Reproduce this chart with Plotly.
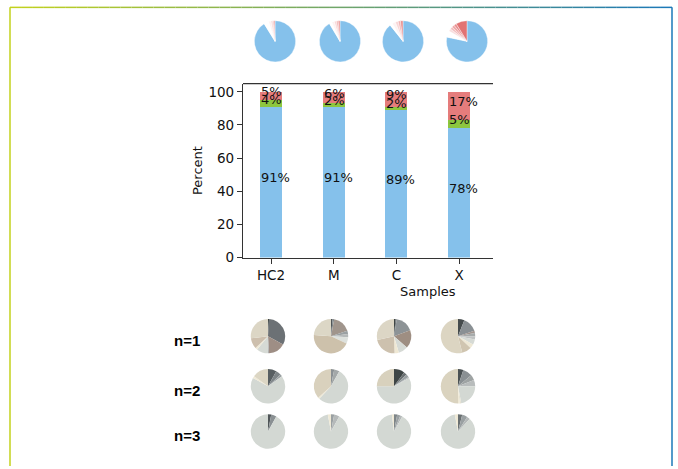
import plotly.graph_objects as go

W, H = 678, 469

# ---------------- data ----------------
samples = ["HC2", "M", "C", "X"]
blue_pct = [91.2, 91.4, 89.3, 78.3]
green_pct = [3.9, 2.2, 2.1, 4.9]
red_pct = [4.9, 6.4, 8.6, 16.8]
yticks = [0, 20, 40, 60, 80, 100]

# red part of each top pie, split into sub-slices (light -> dark)
red_sub = [
    [1.8, 1.4, 0.9, 0.8],
    [2.0, 1.6, 1.4, 1.4],
    [2.6, 2.2, 1.8, 2.0],
    [2.0, 2.0, 2.0, 2.0, 8.8],
]

row_labels = ["n=1", "n=2", "n=3"]

# lower pies: values (clockwise from 12 o'clock) and slice colours
n_vals = [
    [
        [1, 32, 16, 1, 11, 2, 10, 27],
        [1.5, 1.5, 17, 3, 3, 6, 44, 24],
        [1.5, 1, 17, 17, 9, 4, 22, 28.5],
        [6, 14, 2, 3, 3, 5, 4, 9, 54],
    ],
    [
        [8, 5, 2, 68, 2, 15],
        [3, 5, 54, 1.5, 36.5],
        [10, 3, 3, 1, 58, 25],
        [5, 9, 5, 6, 22, 1.5, 1.5, 50],
    ],
    [
        [3, 5, 92],
        [3, 5, 89, 3],
        [3, 3, 2, 90, 2],
        [4, 5, 3, 85, 3],
    ],
]
n_cols = [
    [
        ["#3e4545", "#6c7175", "#9e8e85", "#b0b0b0", "#d6dad5", "#eee8d5", "#cdbfad", "#dcd6c5"],
        ["#505558", "#7e8588", "#a0958c", "#9aa0a2", "#b5b9b9", "#dde1dd", "#cdc1ab", "#dcd7c6"],
        ["#3e4545", "#5c6366", "#8d9396", "#9e8e82", "#d6dad5", "#efe8d4", "#cdc1ae", "#dcd6c5"],
        ["#454b4d", "#8a9094", "#a0948e", "#a7abab", "#c0c3c3", "#d6dad5", "#eee8d5", "#d0c5b0", "#dcd5c2"],
    ],
    [
        ["#585f62", "#7e8588", "#9aa0a2", "#d3d8d3", "#efe9d6", "#dcd6c4"],
        ["#8a9093", "#a3a8a8", "#d3d8d3", "#efe9d6", "#d9d1bd"],
        ["#3e4545", "#6a7072", "#9aa0a2", "#b5b9b9", "#d3d8d3", "#d8d1bd"],
        ["#4a5153", "#8a9093", "#9ea3a3", "#b8bcbc", "#d3d8d3", "#e5e1d2", "#efe9d6", "#dad3bf"],
    ],
    [
        ["#4f5558", "#8a9093", "#d3d8d3"],
        ["#9aa0a2", "#b5b9b9", "#d3d8d3", "#efe9d6"],
        ["#7e8588", "#9aa0a2", "#b5b9b9", "#d3d8d3", "#efe9d6"],
        ["#6a7072", "#9aa0a2", "#b5b9b9", "#d3d8d3", "#efe9d6"],
    ],
]

# ---------------- style ----------------
BLUE, GREEN, RED = "#85c1eb", "#8dc63f", "#e57c7c"
red_shades4 = ["#fdf2f2", "#f8d6d6", "#f1b3b3", "#e99191"]
red_shades5 = ["#f9dede", "#f3bfbf", "#eda5a5", "#e88c8c", "#e27373"]
FONT = "DejaVu Sans"

ax_l, ax_r, ax_t, ax_b = 243, 493, 85, 262
top_cx = [275, 340, 403, 467]
top_cy, top_r = 42, 21
low_cx = [268, 331, 394, 458]
low_cy = [342, 393, 439]
low_r = 17.5


def px(x):
    return x / W


def py(y):
    return 1 - y / H


def dom(cx, cy, r):
    return dict(x=[px(cx - r), px(cx + r)], y=[py(cy + r), py(cy - r)])


fig = go.Figure()

# stacked bars
xs = list(range(len(samples)))
for vals, col in [(blue_pct, BLUE), (green_pct, GREEN), (red_pct, RED)]:
    fig.add_trace(go.Bar(x=xs, y=vals, width=0.35, marker=dict(color=col, line=dict(width=0)),
                         showlegend=False, hoverinfo="skip"))

annotations = []
for i in xs:
    base = 0
    for v in (blue_pct[i], green_pct[i], red_pct[i]):
        annotations.append(dict(x=i - 0.175, y=base + v / 2, xref="x", yref="y",
                                text=f"{round(v)}%", showarrow=False, xanchor="left",
                                yanchor="middle", yshift=4, borderpad=0,
                                font=dict(family=FONT, size=13, color="#111")))
        base += v

# top pies
for i in xs:
    parts = red_sub[i]
    shades = red_shades5 if len(parts) == 5 else red_shades4
    vals = [blue_pct[i], green_pct[i]] + parts
    cols = [BLUE, "#ffffff"] + shades
    fig.add_trace(go.Pie(values=vals, sort=False, direction="clockwise", rotation=0,
                         marker=dict(colors=cols, line=dict(width=0.4, color="#ffffff")),
                         textinfo="none", hoverinfo="skip", showlegend=False,
                         domain=dom(top_cx[i], top_cy, top_r)))

# lower pies
for r in range(3):
    for c in range(4):
        fig.add_trace(go.Pie(values=n_vals[r][c], sort=False, direction="clockwise", rotation=0,
                             marker=dict(colors=n_cols[r][c], line=dict(width=0)),
                             textinfo="none", hoverinfo="skip", showlegend=False,
                             domain=dom(low_cx[c], low_cy[r], low_r)))
    annotations.append(dict(x=px(172), y=py(low_cy[r] + 4), xref="paper", yref="paper",
                            text=f"<b>{row_labels[r]}</b>", showarrow=False, xanchor="left",
                            yanchor="middle",
                            font=dict(family="Liberation Sans", size=15, color="#000")))

# axis titles
annotations.append(dict(x=px(197), y=py(174), xref="paper", yref="paper", text="Percent",
                        textangle=-90, showarrow=False, xanchor="center", yanchor="middle",
                        font=dict(family=FONT, size=13, color="#111")))
annotations.append(dict(x=px(428), y=py(297), xref="paper", yref="paper", text="Samples",
                        showarrow=False, xanchor="center", yanchor="middle",
                        font=dict(family=FONT, size=13, color="#111")))

shapes = []
# top spine
shapes.append(dict(type="line", xref="paper", yref="paper", x0=px(ax_l), x1=px(ax_r),
                   y0=py(ax_t), y1=py(ax_t), line=dict(color="#333333", width=1.2)))

# gradient frame
c0 = (195, 210, 28)
c1 = (27, 120, 184)
L, R, T = 10, 672, 7.5
nseg = 60
for k in range(nseg):
    t = (k + 0.5) / nseg
    col = "rgb(%d,%d,%d)" % tuple(round(c0[j] + (c1[j] - c0[j]) * t) for j in range(3))
    xa = L + (R - L) * k / nseg
    xb = L + (R - L) * (k + 1) / nseg
    shapes.append(dict(type="line", xref="paper", yref="paper", x0=px(xa), x1=px(xb),
                       y0=py(T), y1=py(T), line=dict(color=col, width=1.5)))
shapes.append(dict(type="line", xref="paper", yref="paper", x0=px(L), x1=px(L),
                   y0=py(T), y1=py(H + 5), line=dict(color="rgb(195,210,28)", width=1.5)))
shapes.append(dict(type="line", xref="paper", yref="paper", x0=px(R), x1=px(R),
                   y0=py(T), y1=py(H + 5), line=dict(color="rgb(27,120,184)", width=1.5)))

fig.update_layout(
    width=W, height=H, margin=dict(l=0, r=0, t=0, b=0),
    paper_bgcolor="white", plot_bgcolor="white", barmode="stack", bargap=0,
    annotations=annotations, shapes=shapes,
    font=dict(family=FONT, size=13, color="#111"),
    xaxis=dict(domain=[px(ax_l), px(ax_r)], range=[-0.447, 3.54], tickvals=xs, ticktext=samples,
               ticks="outside", ticklen=5, tickcolor="#333", showline=True, linecolor="#333",
               linewidth=1.2, showgrid=False, zeroline=False, fixedrange=True,
               tickfont=dict(family=FONT, size=13.5, color="#111")),
    yaxis=dict(domain=[py(ax_b), py(ax_t)], range=[0, 105], tickvals=yticks,
               ticks="outside", ticklen=5, tickcolor="#333", showline=True, linecolor="#333",
               linewidth=1.2, showgrid=False, zeroline=False, fixedrange=True,
               tickfont=dict(family=FONT, size=13.5, color="#111")),
)

fig.write_html("out.html", config={"displayModeBar": False},
               post_script="document.body.style.margin='0';document.body.style.overflow='hidden';")
